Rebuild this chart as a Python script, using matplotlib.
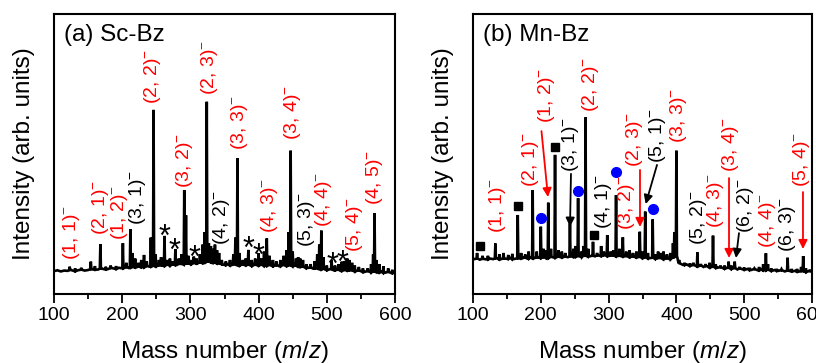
"""
Sc-Bz / Mn-Bz 团簇负离子质谱
两幅子图：(a) Sc-Bz，(b) Mn-Bz，标注 (n, m)- 团簇峰
"""

import numpy as np
import matplotlib
matplotlib.use('Agg')
import matplotlib.pyplot as plt

plt.rcParams['font.family'] = ['Liberation Sans', 'DejaVu Sans']
plt.rcParams['mathtext.fontset'] = 'custom'
plt.rcParams['mathtext.rm'] = 'Liberation Sans'
plt.rcParams['mathtext.it'] = 'Liberation Sans:italic'

# ---------------- (a) Sc-Bz ----------------
# 基线 (每 5 m/z 取一点)
sc_base_m = np.arange(100, 601, 5)
sc_base_u = np.array([
    8.0, 8.3, 7.9, 8.2, 8.1, 8.4, 8.0, 8.3, 8.5, 8.2,
    8.4, 8.7, 8.5, 8.6, 8.9, 8.6, 8.8, 9.1, 8.8, 9.2,
    9.0, 9.4, 9.1, 9.5, 9.3, 9.6, 9.4, 9.8, 9.6, 9.9,
    9.7, 10.1, 9.9, 10.3, 10.0, 10.4, 10.2, 10.6, 10.3, 10.7,
    10.5, 10.9, 10.7, 11.1, 10.9, 11.4, 11.2, 11.0, 10.8, 10.5,
    10.2, 10.5, 10.1, 10.4, 10.0, 10.4, 10.1, 10.3, 9.9, 10.3,
    10.0, 10.3, 9.9, 10.2, 9.8, 10.1, 9.8, 10.2, 9.9, 10.1,
    9.8, 10.0, 9.5, 9.6, 9.1, 9.3, 8.9, 9.0, 8.6, 8.8,
    8.4, 8.7, 8.3, 8.5, 8.1, 8.4, 8.2, 8.3, 7.9, 8.2,
    8.0, 7.7, 8.0, 7.6, 7.9, 7.5, 7.8, 7.4, 7.7, 7.3,
    7.4])

# 峰位 (m/z) 与峰顶强度
sc_peak_m = np.array([
    123, 131, 140, 154, 160, 168, 176, 183, 191, 201,
    206, 212, 215, 219, 224, 228, 232, 236, 242, 246,
    249, 254, 257, 262, 266, 270, 274, 278, 283, 287,
    291, 293.5, 297, 301, 305, 309, 314, 318, 321, 324,
    327, 330, 333, 336, 339, 342, 346, 352, 358, 363,
    366, 369, 372, 377, 381, 385, 390, 395, 400, 404,
    408, 412, 416, 421, 426, 432, 437, 441, 444, 447,
    450, 455, 458, 461, 465, 470, 476, 482, 486, 489,
    492, 495, 500, 507, 512, 517, 522, 526, 530, 533,
    537, 541, 547, 553, 560, 565, 568, 570, 573, 577,
    583, 590, 596])
sc_peak_u = np.array([
    9.6, 9.0, 9.2, 11.4, 9.8, 17.7, 9.6, 10.0, 9.8, 18.0,
    11.0, 23.0, 14.5, 12.5, 11.0, 12.0, 13.8, 11.5, 20.0, 65.7,
    14.0, 12.0, 13.0, 20.6, 12.0, 12.5, 11.5, 15.9, 12.5, 14.0,
    37.0, 28.0, 13.5, 12.0, 13.2, 12.5, 14.0, 17.5, 22.0, 68.6,
    18.0, 17.0, 16.0, 17.5, 15.5, 14.5, 12.0, 11.5, 12.0, 14.0,
    20.0, 48.4, 14.5, 12.0, 12.5, 15.6, 12.0, 12.5, 14.4, 12.5,
    15.0, 19.7, 13.5, 12.0, 11.5, 12.0, 13.5, 15.5, 22.0, 51.1,
    15.0, 12.5, 13.0, 12.5, 12.0, 10.5, 10.5, 11.5, 14.0, 17.5,
    22.5, 13.0, 10.0, 12.0, 10.0, 10.5, 11.4, 11.5, 12.5, 12.0,
    11.0, 10.0, 9.5, 9.0, 9.0, 10.5, 14.0, 28.7, 12.0, 10.5,
    9.8, 9.0, 8.5])

# 峰标注
sc_lbl = ['(1, 1)', '(2, 1)', '(1, 2)', '(3, 1)', '(2, 2)', '(3, 2)', '(2, 3)',
          '(4, 2)', '(3, 3)', '(4, 3)', '(3, 4)', '(5, 3)', '(4, 4)', '(5, 4)',
          '(4, 5)']
sc_lbl_m = [125.7, 168.2, 196.0, 222.4, 244.4, 291.3, 328.0,
            345.6, 372.0, 416.0, 449.7, 470.2, 495.2, 540.6, 570.0]
sc_lbl_u = [12.0, 20.9, 19.1, 24.5, 67.8, 37.7, 71.0,
            17.4, 51.3, 21.6, 54.9, 16.6, 23.8, 14.8, 31.7]
sc_lbl_c = ['red', 'red', 'red', 'black', 'red', 'red', 'red',
            'black', 'red', 'red', 'red', 'black', 'red', 'red', 'red']

# 杂质峰 (*)
sc_star_m = [262.1, 276.7, 306.0, 385.2, 399.9, 508.4, 523.0]
sc_star_u = [23.4, 18.1, 15.6, 18.8, 16.6, 13.1, 13.8]

# ---------------- (b) Mn-Bz ----------------
mn_base_m = np.arange(100, 601, 5)
mn_base_u = np.array([
    12.2, 12.5, 12.1, 12.4, 12.2, 12.5, 12.3, 12.6, 12.2, 12.5,
    12.4, 12.7, 12.3, 12.6, 12.5, 12.8, 12.5, 12.9, 12.6, 12.9,
    12.7, 13.0, 12.7, 13.1, 12.8, 13.2, 12.9, 13.2, 13.0, 13.3,
    13.1, 13.4, 13.1, 13.5, 13.2, 13.5, 13.3, 13.6, 13.4, 13.7,
    13.4, 13.6, 13.3, 13.5, 13.2, 13.4, 13.0, 13.3, 12.9, 13.1,
    12.7, 13.0, 12.6, 12.8, 12.4, 12.7, 12.3, 12.6, 12.3, 12.9,
    13.5, 10.8, 10.2, 10.4, 9.9, 10.2, 9.7, 10.0, 9.5, 9.8,
    9.3, 9.6, 9.2, 9.4, 8.9, 9.2, 8.8, 9.1, 8.6, 8.9,
    8.5, 8.8, 8.4, 8.7, 8.3, 8.6, 8.3, 8.5, 8.1, 8.4,
    8.1, 8.3, 7.9, 8.2, 7.9, 8.1, 7.8, 8.0, 7.7, 8.0,
    7.8])

mn_peak_m = np.array([
    106, 114, 122, 133, 139, 145, 152, 158, 166, 171,
    177, 182, 188, 194, 200, 204, 208, 211, 215, 221,
    226, 231, 236, 243, 248, 251, 255, 260, 263, 266,
    270, 277, 283, 289, 293, 298, 303, 307, 311, 316,
    321, 326, 331, 336, 341, 346, 350, 354, 358, 365,
    369, 373, 377, 381, 386, 391, 395, 397, 400, 404,
    412, 420, 425, 431, 436, 443, 449, 454, 458, 465,
    471, 477, 481, 486, 493, 500, 508, 515, 522, 528,
    532, 535, 540, 548, 555, 564, 570, 578, 584, 587,
    591, 597])
mn_peak_u = np.array([
    14.5, 13.5, 13.5, 17.9, 14.0, 14.5, 13.8, 14.2, 28.1, 14.5,
    14.0, 15.0, 37.0, 15.0, 23.9, 16.0, 15.5, 32.5, 16.0, 49.6,
    15.5, 15.0, 14.5, 25.1, 16.0, 17.0, 34.1, 15.0, 17.0, 63.0,
    16.0, 18.5, 14.5, 17.0, 15.0, 20.9, 15.0, 15.5, 35.2, 16.0,
    20.1, 15.0, 15.5, 14.5, 15.0, 22.1, 15.0, 29.3, 14.5, 26.5,
    14.0, 15.0, 14.5, 15.0, 14.0, 14.5, 18.0, 22.0, 51.1, 12.0,
    11.0, 10.8, 11.0, 14.7, 10.5, 10.5, 11.0, 20.7, 10.5, 10.0,
    10.0, 11.4, 10.0, 11.4, 9.5, 9.3, 9.2, 9.0, 9.5, 10.5,
    14.4, 10.5, 9.0, 8.8, 8.7, 12.8, 8.8, 8.8, 9.5, 13.4,
    9.0, 8.5])

mn_lbl = ['(1, 1)', '(2, 1)', '(1, 2)', '(3, 1)', '(2, 2)', '(4, 1)', '(3, 2)',
          '(2, 3)', '(5, 1)', '(3, 3)', '(5, 2)', '(4, 3)', '(3, 4)', '(6, 2)',
          '(4, 4)', '(6, 3)', '(5, 4)']
mn_lbl_m = [136.1, 184.8, 207.7, 244.5, 272.6, 293.2, 327.1,
            337.5, 372.1, 403.8, 431.9, 458.4, 480.5, 501.2,
            534.4, 563.9, 584.8]
mn_lbl_u = [21.6, 38.1, 61.0, 43.5, 64.9, 23.1, 22.7,
            45.3, 46.7, 53.8, 17.4, 23.4, 43.5, 21.6,
            16.3, 14.8, 38.1]
mn_lbl_c = ['red', 'red', 'red', 'black', 'red', 'black', 'red',
            'red', 'black', 'red', 'black', 'red', 'red', 'black',
            'red', 'black', 'red']

# 指向峰的箭头: 起点 -> 终点
mn_arr_m0 = [201.0, 244.5, 346.3, 371.4, 477.6, 492.3, 586.7]
mn_arr_u0 = [58.1, 42.8, 44.2, 46.0, 41.3, 21.6, 36.3]
mn_arr_m1 = [210.6, 243.1, 346.3, 354.7, 477.6, 487.9, 586.7]
mn_arr_u1 = [34.5, 23.9, 23.8, 32.0, 12.7, 12.7, 15.9]
mn_arr_c = ['red', 'black', 'red', 'black', 'red', 'black', 'red']

# 其他物种: ■ 与 ●
mn_sq_m = [110.3, 165.9, 220.9, 278.5]
mn_sq_u = [17.0, 31.4, 52.3, 20.9]
mn_dot_m = [200.3, 255.3, 310.9, 365.0]
mn_dot_u = [26.9, 36.8, 43.6, 30.1]


def spectrum(base_m, base_u, peak_m, peak_u, half=0.8):
    """基线 + 每个峰一根尖峰，按 m/z 排序后连成一条线"""
    near = np.abs(base_m[:, None] - peak_m[None, :])
    keep = near.min(axis=1) > half
    foot = base_u[near.argmin(axis=0)]
    xs = np.concatenate([base_m[keep], peak_m - half, peak_m, peak_m + half])
    ys = np.concatenate([base_u[keep], foot, peak_u, foot])
    order = np.argsort(xs, kind='stable')
    return xs[order], ys[order]


def style_axis(ax, title):
    ax.set_xlim(100, 600)
    ax.set_ylim(0, 100)
    ax.set_xticks(np.arange(100, 601, 100))
    ax.set_xticks(np.arange(150, 600, 100), minor=True)
    ax.set_yticks([])
    ax.tick_params(axis='x', which='major', direction='out', length=6.5,
                   width=1.3, labelsize=14, pad=3)
    ax.tick_params(axis='x', which='minor', direction='out', length=3.5,
                   width=1.3)
    for sp in ax.spines.values():
        sp.set_linewidth(1.5)
    ax.set_xlabel('Mass number ($m/z$)', fontsize=17.5, labelpad=11)
    ax.set_ylabel('Intensity (arb. units)', fontsize=17.5, labelpad=14)
    ax.text(0.03, 0.965, title, transform=ax.transAxes, fontsize=17.5,
            ha='left', va='top')


def draw_labels(ax, names, ms, us, colors):
    for name, m, u, c in zip(names, ms, us, colors):
        ax.text(m, u, name + '$^{-}$', rotation=90, ha='center', va='bottom',
                fontsize=14, color=c)


fig = plt.figure(figsize=(8.16, 3.63), dpi=100)
ax_a = fig.add_axes([54 / 816, 1 - 293.5 / 363, 341 / 816, 279.5 / 363])
ax_b = fig.add_axes([473 / 816, 1 - 293.5 / 363, 339 / 816, 279.5 / 363])

# (a)
xs, ys = spectrum(sc_base_m, sc_base_u, sc_peak_m, sc_peak_u)
ax_a.plot(xs, ys, color='black', lw=1.9, solid_joinstyle='miter')
draw_labels(ax_a, sc_lbl, sc_lbl_m, sc_lbl_u, sc_lbl_c)
for m, u in zip(sc_star_m, sc_star_u):
    # 星号字形偏上，以基线对齐再下移
    ax_a.annotate('*', xy=(m, u), xytext=(0, -12.5), textcoords='offset points',
                  ha='center', va='baseline', fontsize=22)
style_axis(ax_a, '(a) Sc-Bz')

# (b)
xs, ys = spectrum(mn_base_m, mn_base_u, mn_peak_m, mn_peak_u)
ax_b.plot(xs, ys, color='black', lw=1.9, solid_joinstyle='miter')
draw_labels(ax_b, mn_lbl, mn_lbl_m, mn_lbl_u, mn_lbl_c)
for m0, u0, m1, u1, c in zip(mn_arr_m0, mn_arr_u0, mn_arr_m1, mn_arr_u1, mn_arr_c):
    ax_b.annotate('', xy=(m1, u1), xytext=(m0, u0),
                  arrowprops=dict(arrowstyle='-|>', color=c, lw=1.3,
                                  mutation_scale=13, shrinkA=0, shrinkB=0))
ax_b.plot(mn_sq_m, mn_sq_u, 's', color='black', ms=5.5, ls='none')
ax_b.plot(mn_dot_m, mn_dot_u, 'o', color='blue', ms=7, ls='none')
style_axis(ax_b, '(b) Mn-Bz')

fig.savefig('out.png', dpi=100)
